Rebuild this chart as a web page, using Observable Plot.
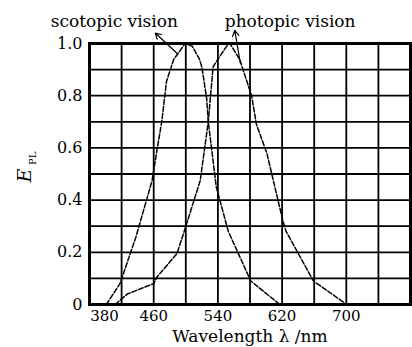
<!DOCTYPE html>
<html><head><meta charset="utf-8">
<script src="https://cdn.jsdelivr.net/npm/d3@7"></script>
<script src="https://cdn.jsdelivr.net/npm/@observablehq/plot@0.6"></script>
<style>
body{margin:0;background:#fff}
svg, svg text { font-family: "DejaVu Serif", "Liberation Serif", serif !important; }
</style>
</head><body><div id="chart"></div>
<script>
// Data
const wavelengthScotopic = [401, 418, 438, 458, 464, 470, 476, 485, 490, 499, 508, 517, 520, 526, 528, 538, 553, 581, 613, 618];
const valueScotopic      = [0, 0.08, 0.26, 0.475, 0.59, 0.70, 0.855, 0.94, 0.96, 1.0, 0.99, 0.94, 0.91, 0.79, 0.70, 0.45, 0.28, 0.09, 0.01, 0];
const wavelengthPhotopic = [412, 427, 460, 464, 489, 498, 518, 528, 534, 540, 551, 555, 567, 582, 588, 601, 621, 625, 659, 696, 700];
const valuePhotopic      = [0, 0.04, 0.08, 0.105, 0.195, 0.28, 0.475, 0.70, 0.91, 0.94, 0.99, 1.0, 0.94, 0.80, 0.69, 0.58, 0.32, 0.28, 0.09, 0.01, 0];
const gridX = [380, 420, 460, 500, 540, 580, 620, 660, 700, 740, 780];
const gridY = [0, 0.1, 0.2, 0.3, 0.4, 0.5, 0.6, 0.7, 0.8, 0.9, 1.0];
const xTickValues = [380, 460, 540, 620, 700];
const yTickValues = [0, 0.2, 0.4, 0.6, 0.8, 1.0];
const seriesLabels = ["scotopic vision", "photopic vision"];
const labelX = [411, 630];
const labelY = [1.085, 1.085];
const arrowFromX = [490, 568], arrowFromY = [0.96, 0.925];
const arrowToX = [462, 561], arrowToY = [1.04, 1.05];

const scotopic = wavelengthScotopic.map((x, i) => ({x, y: valueScotopic[i]}));
const photopic = wavelengthPhotopic.map((x, i) => ({x, y: valuePhotopic[i]}));
const labels = seriesLabels.map((t, i) => ({t, x: labelX[i], y: labelY[i]}));
const arrows = seriesLabels.map((t, i) => ({x1: arrowFromX[i], y1: arrowFromY[i], x2: arrowToX[i], y2: arrowToY[i]}));

const chart = Plot.plot({
  width: 412, height: 347,
  marginLeft: 89, marginRight: 2, marginTop: 43, marginBottom: 43,
  x: {domain: [380, 780]},
  y: {domain: [0, 1]},
  style: {fontFamily: "'DejaVu Serif', serif", fontSize: "16px", color: "black", background: "white", overflow: "visible"},
  marks: [
    Plot.ruleX(gridX, {stroke: "black", strokeWidth: 1.8}),
    Plot.ruleY(gridY, {stroke: "black", strokeWidth: 1.8}),
    Plot.line(scotopic, {x: "x", y: "y", stroke: "black", strokeWidth: 1.5, strokeDasharray: "5,2"}),
    Plot.line(photopic, {x: "x", y: "y", stroke: "black", strokeWidth: 1.5, strokeDasharray: "5,2"}),
    Plot.frame({stroke: "black", strokeWidth: 3}),
    Plot.axisX(xTickValues.slice(1), {tickSize: 0, tickPadding: 6, label: null, fontSize: 15}),
    Plot.axisX(xTickValues.slice(0, 1), {tickSize: 0, tickPadding: 6, dx: 15, label: null, fontSize: 15}),
    Plot.axisY(yTickValues, {tickSize: 0, tickPadding: 7, label: null, fontSize: 16,
      tickFormat: d => d === 0 ? "0" : d.toFixed(1)}),
    Plot.arrow(arrows, {x1: "x1", y1: "y1", x2: "x2", y2: "y2", stroke: "black", strokeWidth: 1.2, headLength: 8}),
    Plot.text(labels, {x: "x", y: "y", text: "t", fontSize: 17}),
    Plot.text(["Wavelength λ /nm"], {frameAnchor: "bottom", dy: 37, fontSize: 17}),
    Plot.text(["E"], {x: [300], y: [0.494], rotate: -90, fontStyle: "italic", fontSize: 19}),
    Plot.text(["PL"], {x: [309], y: [0.56], rotate: -90, fontSize: 10})
  ]
});
document.getElementById("chart").appendChild(chart);
</script>
</body></html>
